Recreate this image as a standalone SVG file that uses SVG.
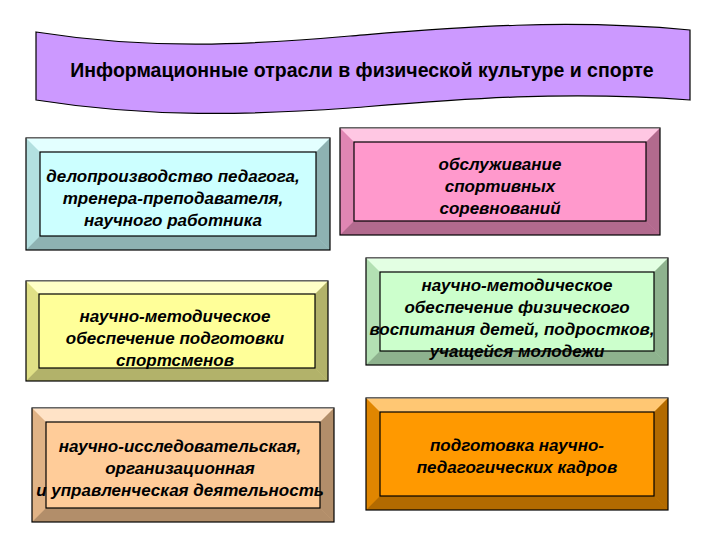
<svg xmlns="http://www.w3.org/2000/svg" width="720" height="540" viewBox="0 0 720 540">
<style>
.t{font-family:"Liberation Sans",Arial,sans-serif;font-size:17px;font-weight:bold;font-style:italic;fill:#000;text-anchor:middle}
.h{font-family:"Liberation Sans",Arial,sans-serif;font-size:19.5px;font-weight:bold;fill:#000;text-anchor:middle}
.o{stroke:#000;stroke-width:1.2}
.l{fill:#fff;fill-opacity:.45}
.d{fill:#000;fill-opacity:.3}
.s{fill:#000;fill-opacity:.12}
</style>
<rect width="720" height="540" fill="#fff"/>
<g id="banner">
<path d="M36 32 C150 50 250 45 350 36 C450 28 560 18 690 30 L690 100 C560 90 450 100 350 108 C250 115 150 118 36 100 Z" fill="#cc99ff" stroke="#000" stroke-width="1.2"/>
<text class="h" x="362" y="77">Информационные отрасли в физической культуре и спорте</text>
</g>
<g id="n1">
<rect x="26" y="138" width="304" height="112" fill="#ccffff" class="o"/>
<polygon points="26,138 330,138 316,152 40,152" class="l"/><polygon points="26,138 40,152 40,236 26,250" class="s"/>
<polygon points="330,138 330,250 316,236 316,152" class="d"/><polygon points="26,250 330,250 316,236 40,236" class="d"/>
<rect x="40" y="152" width="276" height="84" fill="none" class="o"/>
<text class="t" x="173" y="182">делопроизводство педагога,</text><text class="t" x="173" y="204">тренера-преподавателя,</text><text class="t" x="173" y="226">научного работника</text>
</g>
<g id="n2">
<rect x="340" y="128" width="320" height="107" fill="#ff99cc" class="o"/>
<polygon points="340,128 660,128 646,142 354,142" class="l"/><polygon points="340,128 354,142 354,221 340,235" class="s"/>
<polygon points="660,128 660,235 646,221 646,142" class="d"/><polygon points="340,235 660,235 646,221 354,221" class="d"/>
<rect x="354" y="142" width="292" height="79" fill="none" class="o"/>
<text class="t" x="500" y="170">обслуживание</text><text class="t" x="500" y="192">спортивных</text><text class="t" x="500" y="214">соревнований</text>
</g>
<g id="n3">
<rect x="26" y="281" width="302" height="100" fill="#ffff99" class="o"/>
<polygon points="26,281 328,281 315,294 39,294" class="l"/><polygon points="26,281 39,294 39,368 26,381" class="s"/>
<polygon points="328,281 328,381 315,368 315,294" class="d"/><polygon points="26,381 328,381 315,368 39,368" class="d"/>
<rect x="39" y="294" width="276" height="74" fill="none" class="o"/>
<text class="t" x="175" y="322">научно-методическое</text><text class="t" x="175" y="344">обеспечение подготовки</text><text class="t" x="175" y="366">спортсменов</text>
</g>
<g id="n4">
<rect x="366" y="258" width="302" height="107" fill="#ccffcc" class="o"/>
<polygon points="366,258 668,258 654,272 380,272" class="l"/><polygon points="366,258 380,272 380,351 366,365" class="s"/>
<polygon points="668,258 668,365 654,351 654,272" class="d"/><polygon points="366,365 668,365 654,351 380,351" class="d"/>
<rect x="380" y="272" width="274" height="79" fill="none" class="o"/>
<text class="t" x="517" y="291">научно-методическое</text><text class="t" x="517" y="313">обеспечение физического</text><text class="t" x="512" y="335">воспитания детей, подростков,</text><text class="t" x="517" y="357">учащейся молодежи</text>
</g>
<g id="n5">
<rect x="32" y="408" width="302" height="114" fill="#ffcc99" class="o"/>
<polygon points="32,408 334,408 320,422 46,422" class="l"/><polygon points="32,408 46,422 46,508 32,522" class="s"/>
<polygon points="334,408 334,522 320,508 320,422" class="d"/><polygon points="32,522 334,522 320,508 46,508" class="d"/>
<rect x="46" y="422" width="274" height="86" fill="none" class="o"/>
<text class="t" x="180" y="452">научно-исследовательская,</text><text class="t" x="180" y="474">организационная</text><text class="t" x="180" y="496">и управленческая деятельность</text>
</g>
<g id="n6">
<rect x="366" y="398" width="302" height="112" fill="#ff9900" class="o"/>
<polygon points="366,398 668,398 654,412 380,412" class="l"/><polygon points="366,398 380,412 380,496 366,510" class="s"/>
<polygon points="668,398 668,510 654,496 654,412" class="d"/><polygon points="366,510 668,510 654,496 380,496" class="d"/>
<rect x="380" y="412" width="274" height="84" fill="none" class="o"/>
<text class="t" x="517" y="451">подготовка научно-</text><text class="t" x="517" y="473">педагогических кадров</text>
</g>
<g id="connectors"/>
</svg>
